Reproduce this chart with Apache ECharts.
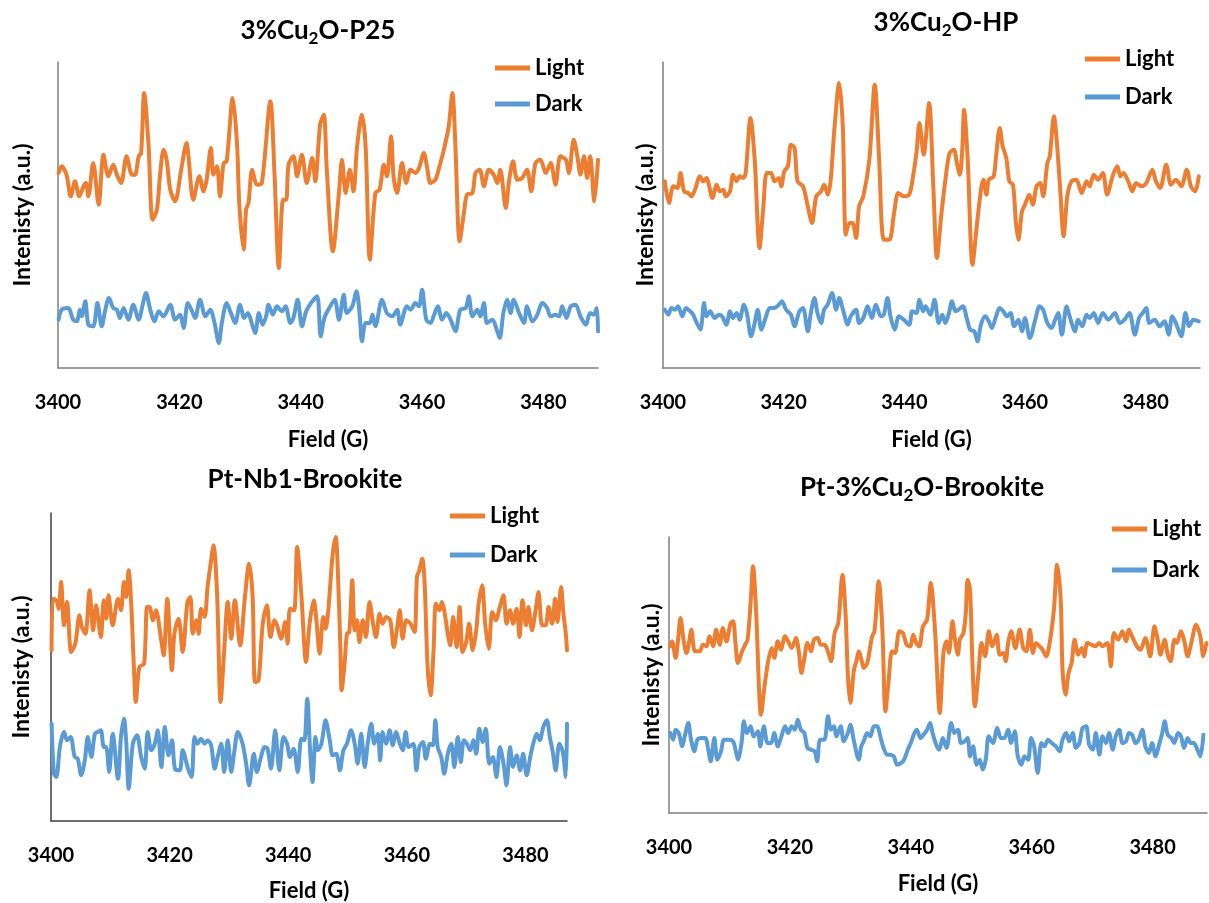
<!DOCTYPE html>
<html>
<head>
<meta charset="utf-8">
<script src="https://cdn.jsdelivr.net/npm/echarts@6/dist/echarts.min.js"></script>
<style>
  html, body { margin: 0; padding: 0; background: #fff; }
  #chart { width: 1209px; height: 903px; }
</style>
</head>
<body>
<div id="chart"></div>
<script>
// EPR spectra, light vs dark, for four photocatalysts. Points are [field (G), intensity (a.u.)].
const fieldTicks = [3400, 3420, 3440, 3460, 3480];
const seriesNames = ['Light', 'Dark'];
const panelTitles = ['3%Cu{s|2}O-P25', '3%Cu{s|2}O-HP', 'Pt-Nb1-Brookite', 'Pt-3%Cu{s|2}O-Brookite'];
const yAxisTitle = 'Intenisty (a.u.)';
const xAxisTitle = 'Field (G)';

const p25Light = [[3400.1,585],[3400.6,605],[3401.4,580],[3402.1,515],[3402.8,560],[3403.5,515],[3404.2,545],[3404.6,555],[3405.0,515],[3405.8,615],[3406.7,490],[3407.5,640],[3408.3,575],[3409.1,610],[3409.7,580],[3410.4,555],[3411.3,635],[3412.2,580],[3412.7,580],[3413.3,635],[3413.7,645],[3414.2,825],[3414.9,675],[3415.6,445],[3416.3,475],[3416.8,575],[3417.4,655],[3417.9,625],[3418.5,535],[3419.3,500],[3420.3,595],[3421.2,675],[3421.5,635],[3422.3,505],[3423.3,575],[3424.0,530],[3424.5,565],[3425.2,660],[3425.6,580],[3426.2,605],[3426.7,515],[3427.3,615],[3427.8,620],[3428.8,810],[3429.5,675],[3429.9,485],[3430.6,355],[3431.0,475],[3431.4,495],[3432.0,595],[3432.8,550],[3433.6,555],[3435.0,800],[3435.7,575],[3436.4,300],[3437.1,505],[3437.6,505],[3438.0,610],[3438.8,635],[3439.4,575],[3440.2,640],[3441.0,555],[3441.9,630],[3442.4,560],[3443.2,730],[3443.8,760],[3444.3,595],[3445.3,350],[3446.3,525],[3446.8,625],[3447.4,525],[3448.1,595],[3448.7,530],[3449.3,665],[3450.1,760],[3450.7,665],[3451.4,325],[3452.3,525],[3453.0,535],[3453.7,610],[3454.2,575],[3454.9,695],[3455.3,575],[3455.9,525],[3456.7,615],[3457.4,555],[3458.1,595],[3458.9,585],[3459.5,600],[3460.3,645],[3460.8,605],[3461.4,555],[3462.2,565],[3462.8,600],[3463.6,655],[3464.4,725],[3465.0,825],[3465.5,665],[3466.2,380],[3466.9,465],[3467.4,520],[3468.3,525],[3468.8,585],[3469.5,595],[3470.2,545],[3471.0,595],[3471.8,580],[3472.4,555],[3472.9,595],[3473.8,480],[3474.3,555],[3475.0,620],[3475.7,565],[3476.5,570],[3477.3,595],[3478.0,530],[3478.7,615],[3479.5,625],[3480.4,585],[3481.2,615],[3482.0,550],[3482.8,635],[3483.7,625],[3484.2,585],[3485.0,685],[3485.6,635],[3486.1,580],[3486.7,635],[3487.2,570],[3487.7,635],[3488.4,500],[3489.0,625]];

const p25Dark = [[3400.1,145],[3400.6,175],[3401.7,180],[3402.5,145],[3403.1,140],[3403.6,175],[3403.9,155],[3404.5,200],[3405.0,130],[3405.8,125],[3406.5,195],[3407.2,125],[3407.8,175],[3408.4,210],[3409.1,180],[3409.7,175],[3410.2,150],[3410.8,180],[3411.6,145],[3412.4,190],[3413.3,145],[3413.9,185],[3414.5,225],[3415.2,175],[3415.9,140],[3416.6,170],[3417.4,155],[3418.5,190],[3419.3,145],[3420.1,160],[3420.7,120],[3421.4,195],[3422.1,170],[3422.6,150],[3423.4,205],[3424.3,155],[3425.1,175],[3425.8,135],[3426.5,75],[3427.0,135],[3427.8,195],[3428.5,165],[3429.2,135],[3430.0,190],[3430.7,150],[3431.3,165],[3432.0,130],[3432.5,105],[3433.1,165],[3433.7,130],[3434.3,155],[3434.7,190],[3435.4,160],[3436.1,185],[3436.9,170],[3437.5,185],[3438.3,135],[3438.8,150],[3439.5,205],[3440.2,125],[3440.9,170],[3441.7,195],[3442.7,215],[3443.3,95],[3443.9,150],[3444.7,180],[3445.6,205],[3446.3,145],[3447.1,220],[3447.6,165],[3448.5,185],[3449.2,230],[3449.7,165],[3450.1,80],[3450.7,135],[3451.4,135],[3451.8,160],[3452.3,125],[3453.4,205],[3454.2,165],[3455.1,155],[3455.9,175],[3456.4,130],[3457.5,185],[3458.1,175],[3458.9,195],[3459.5,185],[3460.0,235],[3460.7,145],[3461.4,135],[3461.9,155],[3462.6,185],[3463.3,145],[3464.0,165],[3464.7,145],[3465.5,110],[3466.3,175],[3467.2,180],[3467.7,215],[3468.3,155],[3469.1,175],[3469.6,155],[3470.2,195],[3470.7,135],[3471.6,145],[3472.3,115],[3472.8,90],[3473.4,165],[3474.0,205],[3474.6,165],[3475.1,205],[3476.0,165],[3476.8,135],[3477.3,185],[3478.2,140],[3479.0,160],[3479.8,195],[3480.6,180],[3481.2,155],[3482.0,160],[3482.6,155],[3483.1,185],[3483.8,150],[3484.5,185],[3485.3,190],[3486.1,155],[3487.0,130],[3487.7,165],[3488.3,160],[3488.8,180],[3489.0,110]];

const hpLight = [[3400.3,560],[3401.0,495],[3401.7,545],[3402.4,540],[3402.9,585],[3403.5,530],[3404.2,525],[3404.7,515],[3405.4,540],[3406.1,575],[3406.7,560],[3407.2,570],[3408.2,510],[3408.9,550],[3409.4,530],[3410.0,535],[3410.4,515],[3411.1,530],[3411.6,580],[3412.2,560],[3412.7,575],[3413.3,570],[3413.7,585],[3414.5,750],[3415.2,625],[3416.0,360],[3416.6,475],[3417.2,585],[3417.9,585],[3418.5,560],[3419.2,570],[3419.6,545],[3420.1,590],[3420.7,605],[3421.2,670],[3421.8,660],[3422.3,560],[3423.2,545],[3424.0,485],[3424.7,435],[3425.4,515],[3426.2,530],[3426.7,550],[3427.3,520],[3427.8,565],[3428.4,715],[3429.2,855],[3429.8,725],[3430.3,400],[3430.9,435],[3431.4,435],[3432.0,390],[3432.5,485],[3433.2,515],[3434.2,625],[3435.1,850],[3435.8,635],[3436.6,385],[3437.5,385],[3438.3,465],[3439.0,525],[3439.9,515],[3440.8,520],[3441.4,570],[3442.0,645],[3442.5,735],[3443.2,640],[3444.1,795],[3444.8,545],[3445.4,330],[3446.1,455],[3446.8,565],[3447.5,645],[3448.2,655],[3448.7,615],[3449.2,580],[3449.6,655],[3449.9,775],[3450.5,625],[3451.3,310],[3452.0,425],[3452.7,535],[3453.1,565],[3453.6,520],[3454.0,565],[3454.8,575],[3455.2,635],[3455.8,720],[3456.3,665],[3456.9,630],[3457.4,560],[3458.0,550],[3458.5,435],[3458.9,385],[3459.5,470],[3460.0,490],[3460.7,520],[3461.3,490],[3461.9,545],[3462.5,555],[3463.0,515],[3463.7,615],[3464.1,635],[3464.8,755],[3465.2,695],[3465.8,545],[3466.4,395],[3467.0,515],[3467.7,560],[3468.5,565],[3469.4,525],[3470.2,560],[3470.7,545],[3471.4,580],[3472.1,565],[3472.9,585],[3473.6,520],[3474.6,580],[3475.3,605],[3475.8,575],[3476.3,585],[3477.1,560],[3477.8,530],[3478.4,555],[3479.3,545],[3480.1,555],[3481.1,595],[3481.7,560],[3482.4,540],[3483.4,610],[3484.2,550],[3485.0,565],[3485.9,545],[3486.8,595],[3487.5,545],[3488.2,530],[3488.8,575]];

const hpDark = [[3400.3,175],[3400.9,160],[3401.4,180],[3402.0,175],[3402.5,185],[3403.2,155],[3403.8,180],[3404.5,170],[3405.0,160],[3405.6,135],[3406.2,115],[3406.8,195],[3407.2,155],[3407.8,170],[3408.6,150],[3409.3,160],[3409.8,155],[3410.5,130],[3411.1,170],[3411.6,150],[3412.2,165],[3412.7,145],[3413.4,190],[3413.9,165],[3414.6,95],[3415.2,135],[3415.7,175],[3416.3,115],[3417.0,150],[3417.7,180],[3418.5,180],[3419.2,190],[3419.7,200],[3420.4,175],[3421.2,160],[3421.8,125],[3422.6,170],[3423.2,180],[3424.0,110],[3424.5,165],[3425.1,210],[3425.6,165],[3426.2,135],[3426.7,175],[3427.3,190],[3428.0,225],[3428.7,175],[3429.2,210],[3429.9,170],[3430.6,130],[3431.1,155],[3432.0,175],[3432.5,135],[3433.2,150],[3433.9,185],[3434.6,150],[3435.3,190],[3436.1,155],[3436.6,160],[3437.2,210],[3437.7,155],[3438.4,115],[3439.1,155],[3439.9,145],[3440.8,130],[3441.3,170],[3442.0,165],[3442.5,205],[3443.1,170],[3443.5,185],[3444.3,160],[3445.0,205],[3445.7,135],[3446.3,160],[3446.8,135],[3447.4,165],[3447.9,200],[3448.5,170],[3449.0,175],[3449.7,185],[3450.4,145],[3450.9,115],[3451.6,110],[3452.1,80],[3452.7,130],[3453.4,155],[3454.0,140],[3454.5,120],[3455.2,155],[3455.8,180],[3456.4,170],[3457.0,155],[3457.6,165],[3458.2,125],[3458.9,145],[3459.5,110],[3460.0,150],[3460.8,90],[3461.7,145],[3462.4,185],[3463.0,175],[3463.7,135],[3464.4,120],[3465.0,145],[3465.5,165],[3466.1,100],[3466.9,185],[3467.4,155],[3468.3,110],[3468.8,145],[3469.5,125],[3470.2,160],[3470.7,150],[3471.4,165],[3472.1,135],[3472.9,165],[3473.8,145],[3474.9,165],[3475.7,135],[3476.5,145],[3477.3,165],[3478.2,100],[3478.9,150],[3479.5,165],[3480.1,180],[3480.6,135],[3481.5,145],[3482.3,125],[3483.1,140],[3483.8,100],[3484.4,155],[3485.0,135],[3485.9,95],[3486.6,165],[3487.2,125],[3487.9,145],[3488.8,140]];

const nbLight = [[3400.1,512],[3400.3,667],[3400.9,662],[3401.3,637],[3401.7,717],[3402.2,587],[3402.7,657],[3403.4,507],[3404.1,532],[3404.8,617],[3405.2,582],[3405.8,562],[3406.5,692],[3407.1,572],[3407.6,647],[3408.4,552],[3408.9,662],[3409.3,607],[3409.7,677],[3410.4,587],[3411.3,667],[3411.8,632],[3412.3,717],[3412.7,672],[3413.1,752],[3413.5,662],[3414.0,452],[3414.3,357],[3414.9,462],[3415.7,472],[3416.2,642],[3416.6,642],[3417.2,602],[3417.7,632],[3418.5,552],[3419.0,497],[3419.6,667],[3420.4,452],[3420.8,562],[3421.5,607],[3422.2,507],[3423.0,657],[3423.5,672],[3423.9,562],[3424.5,602],[3424.9,562],[3425.3,637],[3425.9,612],[3426.4,702],[3427.0,782],[3427.4,827],[3428.0,682],[3428.6,357],[3429.2,512],[3429.8,657],[3430.4,547],[3431.0,662],[3431.9,527],[3432.7,672],[3433.4,772],[3434.0,672],[3434.4,417],[3435.0,422],[3435.7,592],[3436.4,647],[3437.0,552],[3437.7,602],[3438.2,582],[3438.8,547],[3439.5,597],[3439.9,532],[3440.3,637],[3441.0,632],[3441.5,822],[3442.2,682],[3443.0,477],[3443.6,592],[3444.3,662],[3444.7,612],[3445.3,502],[3445.9,612],[3446.3,577],[3446.7,622],[3447.1,712],[3447.5,802],[3448.0,852],[3448.4,732],[3448.8,512],[3449.0,392],[3449.5,472],[3449.9,562],[3450.3,567],[3450.8,722],[3451.2,572],[3451.6,602],[3452.0,537],[3452.6,602],[3453.1,552],[3453.7,657],[3454.3,592],[3454.8,552],[3455.4,622],[3455.9,592],[3456.5,612],[3457.2,602],[3457.8,522],[3458.3,572],[3458.8,632],[3459.3,547],[3459.9,602],[3460.6,592],[3461.3,567],[3461.7,732],[3462.1,752],[3462.6,787],[3463.0,712],[3463.5,462],[3464.0,377],[3464.5,512],[3464.9,652],[3465.5,632],[3465.9,657],[3466.3,632],[3466.9,562],[3467.3,527],[3467.8,612],[3468.4,522],[3468.9,642],[3469.4,507],[3470.0,537],[3470.5,592],[3471.1,512],[3471.7,572],[3472.1,652],[3472.7,707],[3473.2,592],[3473.8,517],[3474.4,627],[3475.0,602],[3475.6,637],[3476.3,677],[3476.8,592],[3477.4,632],[3477.9,592],[3478.5,637],[3479.0,552],[3479.5,662],[3480.1,587],[3480.5,642],[3481.1,572],[3481.7,632],[3482.2,687],[3482.8,587],[3483.4,587],[3483.9,642],[3484.5,592],[3485.0,667],[3485.4,597],[3486.0,702],[3486.4,622],[3486.8,562],[3487.0,512]];

const nbDark = [[3400.1,292],[3400.5,142],[3400.9,132],[3401.5,222],[3402.2,267],[3402.7,242],[3403.3,252],[3404.0,192],[3404.5,187],[3405.1,137],[3405.7,182],[3406.2,252],[3406.8,192],[3407.4,262],[3407.9,267],[3408.4,272],[3408.9,222],[3409.3,222],[3409.8,147],[3410.4,262],[3411.3,127],[3411.8,252],[3412.3,307],[3412.7,232],[3413.1,97],[3413.8,232],[3414.5,257],[3415.2,192],[3415.8,157],[3416.3,267],[3416.9,212],[3417.5,232],[3418.0,272],[3418.6,162],[3419.2,282],[3419.8,197],[3420.4,242],[3420.9,157],[3421.7,152],[3422.2,212],[3423.1,157],[3423.7,132],[3424.2,252],[3424.7,232],[3425.3,247],[3425.9,232],[3426.4,242],[3427.0,227],[3427.6,157],[3428.1,192],[3428.7,232],[3429.2,147],[3429.8,242],[3430.4,147],[3430.9,207],[3431.5,267],[3432.3,232],[3432.9,172],[3433.4,107],[3434.2,202],[3434.7,147],[3435.4,192],[3436.0,222],[3436.5,217],[3437.1,157],[3437.8,272],[3438.5,152],[3439.2,252],[3439.8,232],[3440.3,192],[3440.9,217],[3441.6,147],[3442.2,247],[3442.7,242],[3443.2,367],[3443.7,207],[3444.1,117],[3444.6,252],[3445.0,212],[3445.6,232],[3446.3,302],[3447.0,242],[3447.5,197],[3448.1,202],[3448.7,152],[3449.3,212],[3449.9,232],[3450.6,272],[3451.2,232],[3451.7,172],[3452.3,262],[3452.9,162],[3453.4,232],[3454.0,292],[3454.5,232],[3455.1,262],[3455.5,182],[3455.9,267],[3456.5,232],[3457.1,272],[3457.6,227],[3458.2,267],[3458.8,232],[3459.3,212],[3459.8,267],[3460.3,222],[3461.1,232],[3461.6,152],[3462.1,222],[3462.7,237],[3463.2,187],[3463.9,232],[3464.4,227],[3464.8,302],[3465.2,222],[3465.8,192],[3466.3,142],[3466.9,202],[3467.5,232],[3468.0,162],[3468.6,252],[3469.1,177],[3469.6,242],[3470.1,232],[3470.7,212],[3471.2,242],[3471.7,202],[3472.2,277],[3472.8,237],[3473.3,277],[3473.9,172],[3474.5,192],[3475.1,132],[3475.7,222],[3476.3,172],[3476.8,107],[3477.4,222],[3477.9,162],[3478.5,197],[3479.1,152],[3479.6,202],[3480.2,137],[3480.8,192],[3481.3,232],[3481.9,262],[3482.4,242],[3483.0,282],[3483.6,302],[3484.1,252],[3484.6,207],[3485.1,152],[3485.7,232],[3486.3,207],[3486.8,132],[3487.0,292]];

const ptCuLight = [[3400.2,500],[3400.5,515],[3401.1,465],[3401.5,520],[3401.9,585],[3402.4,520],[3402.9,480],[3403.3,510],[3403.7,550],[3404.3,485],[3405.1,485],[3405.6,505],[3406.2,500],[3406.7,530],[3407.3,500],[3407.8,550],[3408.4,505],[3408.9,555],[3409.5,515],[3410.2,570],[3410.6,575],[3411.0,510],[3411.4,450],[3412.1,485],[3412.6,505],[3413.0,520],[3413.5,630],[3413.9,740],[3414.4,610],[3414.9,370],[3415.2,295],[3415.8,380],[3416.4,455],[3417.0,495],[3417.4,465],[3418.0,515],[3418.5,490],[3419.2,530],[3419.7,515],[3420.3,495],[3421.0,525],[3421.5,480],[3421.9,420],[3422.4,465],[3422.9,510],[3423.5,485],[3424.0,520],[3424.6,525],[3425.1,505],[3425.7,505],[3426.2,490],[3426.8,455],[3427.4,540],[3428.0,570],[3428.7,715],[3429.2,600],[3429.6,410],[3430.0,330],[3430.6,430],[3431.0,455],[3431.4,485],[3431.9,455],[3432.2,435],[3432.8,450],[3433.6,530],[3434.0,545],[3434.7,695],[3435.3,550],[3435.8,305],[3436.3,390],[3436.9,485],[3437.4,480],[3438.1,545],[3438.7,540],[3439.3,505],[3439.9,500],[3440.4,535],[3440.9,510],[3441.4,500],[3442.0,560],[3442.7,580],[3443.3,690],[3444.0,550],[3444.8,300],[3445.4,480],[3445.9,515],[3446.3,480],[3446.9,575],[3447.3,520],[3447.8,475],[3448.1,520],[3448.7,540],[3449.1,600],[3449.4,700],[3449.8,670],[3450.2,450],[3450.6,320],[3451.2,420],[3451.7,510],[3452.3,470],[3452.9,545],[3453.5,500],[3454.2,535],[3454.7,475],[3455.3,480],[3455.7,455],[3456.1,510],[3456.6,545],[3457.3,495],[3458.0,550],[3458.6,495],[3459.1,485],[3459.7,550],[3460.2,480],[3460.7,510],[3461.3,500],[3461.8,490],[3462.4,470],[3463.1,525],[3463.7,615],[3464.2,745],[3464.8,640],[3465.1,430],[3465.6,355],[3466.1,420],[3466.6,450],[3467.1,520],[3467.7,475],[3468.3,495],[3468.7,470],[3469.2,510],[3469.9,505],[3470.5,500],[3471.2,510],[3471.7,500],[3472.5,510],[3473.1,440],[3473.6,540],[3474.3,520],[3475.0,545],[3475.6,515],[3476.1,550],[3476.6,530],[3477.4,500],[3478.0,490],[3478.8,525],[3479.6,470],[3480.3,560],[3480.8,525],[3481.3,475],[3482.0,520],[3482.5,475],[3483.0,455],[3483.6,520],[3484.0,510],[3484.7,545],[3485.2,520],[3485.8,470],[3486.4,510],[3487.2,565],[3487.9,530],[3488.4,470],[3488.9,510]];

const ptCuDark = [[3400.2,240],[3400.7,220],[3401.1,250],[3401.6,240],[3402.2,200],[3402.6,230],[3403.2,270],[3403.6,225],[3404.2,185],[3404.7,220],[3405.4,225],[3406.0,225],[3406.5,190],[3406.9,155],[3407.5,225],[3408.0,160],[3408.6,185],[3409.1,220],[3409.8,220],[3410.6,215],[3411.0,190],[3411.4,160],[3412.0,210],[3412.4,275],[3412.9,240],[3413.5,260],[3414.0,230],[3414.7,245],[3415.1,200],[3415.7,260],[3416.3,210],[3416.9,210],[3417.4,240],[3418.0,200],[3418.6,230],[3419.2,260],[3419.7,240],[3420.3,260],[3420.8,250],[3421.3,280],[3421.8,250],[3422.4,240],[3422.9,195],[3423.5,190],[3424.1,185],[3424.5,155],[3425.0,220],[3425.7,220],[3426.3,290],[3426.8,250],[3427.3,260],[3427.7,230],[3428.4,260],[3428.9,215],[3429.6,240],[3430.0,265],[3430.6,215],[3431.4,160],[3431.8,200],[3432.2,215],[3432.8,240],[3433.3,230],[3433.9,260],[3434.4,260],[3435.1,220],[3435.5,195],[3436.1,175],[3436.6,175],[3437.2,170],[3437.7,145],[3438.4,150],[3438.9,160],[3439.5,190],[3440.0,210],[3440.6,240],[3441.0,250],[3441.6,225],[3442.1,235],[3442.7,250],[3443.2,270],[3443.6,240],[3444.2,205],[3444.7,190],[3445.3,225],[3445.9,195],[3446.7,270],[3447.2,240],[3447.8,250],[3448.3,210],[3448.9,215],[3449.4,225],[3449.8,170],[3450.3,200],[3450.9,145],[3451.4,160],[3451.9,130],[3452.4,160],[3452.9,230],[3453.6,210],[3454.3,255],[3454.9,225],[3455.5,225],[3456.1,250],[3456.6,210],[3457.2,245],[3457.7,170],[3458.3,145],[3458.8,170],[3459.4,160],[3459.9,225],[3460.4,200],[3461.0,120],[3461.6,210],[3462.1,200],[3462.7,220],[3463.3,210],[3464.0,200],[3464.6,185],[3465.1,220],[3465.7,240],[3466.2,215],[3466.8,240],[3467.3,195],[3467.9,210],[3468.4,255],[3469.0,260],[3469.5,205],[3470.1,190],[3470.6,240],[3471.2,175],[3471.7,230],[3472.3,210],[3472.8,240],[3473.4,190],[3473.9,230],[3474.5,250],[3475.0,210],[3475.6,215],[3476.1,240],[3476.6,235],[3477.2,210],[3477.7,220],[3478.3,250],[3478.8,200],[3479.4,180],[3479.9,210],[3480.5,170],[3481.0,200],[3481.6,240],[3482.0,275],[3482.5,235],[3483.1,225],[3483.6,210],[3484.2,240],[3484.7,230],[3485.2,195],[3485.8,225],[3486.3,210],[3486.8,210],[3487.3,195],[3487.9,170],[3488.4,235]];

const lightSets = [p25Light, hpLight, nbLight, ptCuLight];
const darkSets = [p25Dark, hpDark, nbDark, ptCuDark];

// Panel geometry (pixels) and axis extents.
const panels = [
  { left: 58,  top: 62,  width: 540, height: 306, xMax: 3489, yMax: 918, titleX: 318, titleY: 31,
    legendLeft: 495, legendTop: 56, legendGap: 12, yNameGap: 24, xNameGap: 61, axisColor: '#7f7f7f' },
  { left: 663, top: 62,  width: 537, height: 306, xMax: 3489, yMax: 918, titleX: 946, titleY: 23,
    legendLeft: 1085, legendTop: 47, legendGap: 14, yNameGap: 6, xNameGap: 61, axisColor: '#7f7f7f' },
  { left: 51,  top: 513, width: 516, height: 308, xMax: 3487, yMax: 924, titleX: 305, titleY: 480,
    legendLeft: 450, legendTop: 504, legendGap: 15, yNameGap: 18, xNameGap: 59, axisColor: '#404040' },
  { left: 669, top: 537, width: 538, height: 276, xMax: 3489, yMax: 828, titleX: 922, titleY: 488,
    legendLeft: 1112, legendTop: 517, legendGap: 17, yNameGap: 6, xNameGap: 60, axisColor: '#7f7f7f' }
];

const FONT = 'Lato, "Liberation Sans", sans-serif';
const COLORS = { Light: '#ED7D31', Dark: '#5B9BD5' };

const chart = echarts.init(document.getElementById('chart'), null, { renderer: 'canvas' });

const option = {
  backgroundColor: '#ffffff',
  animation: false,
  grid: panels.map(p => ({ left: p.left, top: p.top, width: p.width, height: p.height, containLabel: false })),
  xAxis: panels.map((p, i) => ({
    type: 'value', gridIndex: i, min: 3400, max: p.xMax, interval: 20,
    name: xAxisTitle, nameLocation: 'middle', nameGap: p.xNameGap,
    nameTextStyle: { fontFamily: FONT, fontWeight: 'bold', fontSize: 22, color: '#000' },
    axisLine: { show: true, lineStyle: { color: p.axisColor, width: 1.5 } },
    axisTick: { show: false },
    splitLine: { show: false },
    axisLabel: {
      margin: 25, fontFamily: FONT, fontWeight: 'bold', fontSize: 20, color: '#000',
      showMaxLabel: false,
      formatter: v => (fieldTicks.includes(v) ? String(v) : '')
    }
  })),
  yAxis: panels.map((p, i) => ({
    type: 'value', gridIndex: i, min: 0, max: p.yMax,
    name: yAxisTitle, nameLocation: 'middle', nameRotate: 90, nameGap: p.yNameGap,
    nameTextStyle: { fontFamily: FONT, fontWeight: 'bold', fontSize: 23, color: '#000' },
    axisLine: { show: true, lineStyle: { color: p.axisColor, width: 1.5 } },
    axisTick: { show: false },
    axisLabel: { show: false },
    splitLine: { show: false }
  })),
  legend: panels.map(p => ({
    left: p.legendLeft, top: p.legendTop, orient: 'vertical', padding: 0,
    itemWidth: 35, itemHeight: 5, itemGap: p.legendGap,
    selectedMode: false,
    textStyle: { fontFamily: FONT, fontWeight: 'bold', fontSize: 22, color: '#000', lineHeight: 24 },
    data: seriesNames.map(n => ({ name: n, icon: 'rect' }))
  })),
  graphic: panels.map((p, i) => ({
    type: 'text', x: p.titleX, y: p.titleY,
    style: {
      text: panelTitles[i], align: 'center', verticalAlign: 'middle',
      fontFamily: FONT, fontWeight: 'bold', fontSize: 26, lineHeight: 32, fill: '#000',
      rich: {
        s: { fontFamily: FONT, fontWeight: 'bold', fontSize: 17, lineHeight: 32, verticalAlign: 'bottom', fill: '#000' }
      }
    }
  })),
  series: []
};

panels.forEach((p, i) => {
  [['Light', lightSets[i]], ['Dark', darkSets[i]]].forEach(([name, data]) => {
    option.series.push({
      name, type: 'line', xAxisIndex: i, yAxisIndex: i, data,
      showSymbol: false, smooth: 0.3, clip: true,
      lineStyle: { color: COLORS[name], width: 4, cap: 'round', join: 'round' },
      itemStyle: { color: COLORS[name] },
      emphasis: { disabled: true }
    });
  });
});

chart.setOption(option);
</script>
</body>
</html>
